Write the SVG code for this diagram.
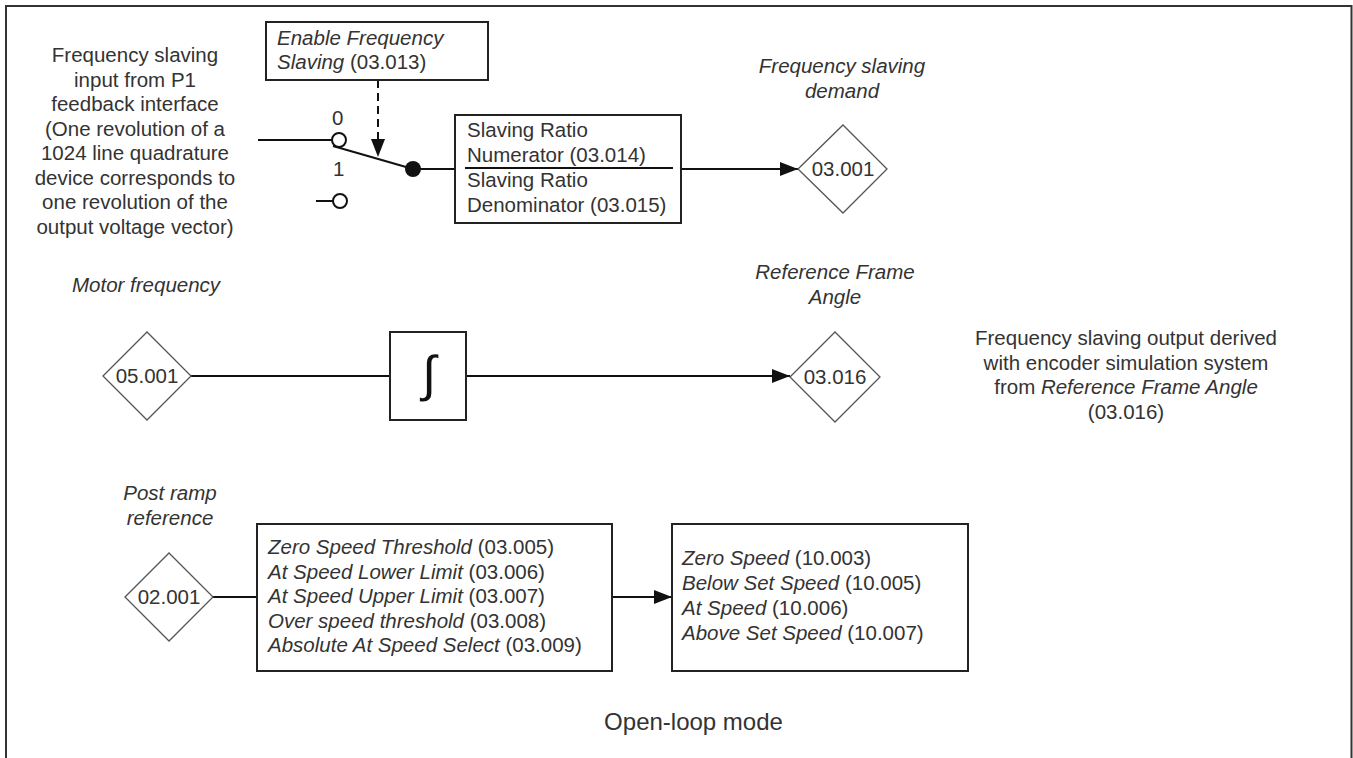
<svg xmlns="http://www.w3.org/2000/svg" width="1353" height="758" viewBox="0 0 1353 758">
<style>
text{font-family:"Liberation Sans",Arial,sans-serif;font-size:20.5px;fill:#333}
.i{font-style:italic}
.c{text-anchor:middle}
.box{fill:#fff;stroke:#222;stroke-width:2}
.dia{fill:#fff;stroke:#555;stroke-width:1.3}
.ln{fill:none;stroke:#111;stroke-width:2}
</style>
<defs>
<marker id="ah" markerUnits="userSpaceOnUse" markerWidth="18" markerHeight="16" refX="18" refY="8" orient="auto">
<path d="M0,1 L18,8 L0,15 z" fill="#111"/>
</marker>
</defs>
<rect x="0" y="0" width="1353" height="758" fill="#fff"/>
<path d="M6,770 V6 H1351.5 V770" fill="none" stroke="#333" stroke-width="2"/>

<g id="connectors">
<path class="ln" d="M258,140 H332"/>
<path class="ln" d="M316,201 H333"/>
<path class="ln" d="M333,146 L413,169"/>
<path class="ln" d="M378,80 V157" stroke-dasharray="8,5" marker-end="url(#ah)"/>
<path class="ln" d="M413,169 H455"/>
<path class="ln" d="M681,169 H798" marker-end="url(#ah)"/>
<path class="ln" d="M191,376 H390"/>
<path class="ln" d="M466,376 H790" marker-end="url(#ah)"/>
<path class="ln" d="M213,597 H257"/>
<path class="ln" d="M612,597 H672" marker-end="url(#ah)"/>
</g>

<g id="input-label">
<text class="c" x="135" y="62">Frequency slaving</text>
<text class="c" x="135" y="86.5">input from P1</text>
<text class="c" x="135" y="111">feedback interface</text>
<text class="c" x="135" y="135.5">(One revolution of a</text>
<text class="c" x="135" y="160">1024 line quadrature</text>
<text class="c" x="135" y="184.5">device corresponds to</text>
<text class="c" x="135" y="209">one revolution of the</text>
<text class="c" x="135" y="233.5">output voltage vector)</text>
</g>

<g id="enable-box">
<rect class="box" x="266" y="22" width="222" height="58"/>
<text x="277" y="45"><tspan class="i">Enable Frequency</tspan></text>
<text x="277" y="69"><tspan class="i">Slaving</tspan> (03.013)</text>
</g>

<g id="switch">
<text x="332" y="125">0</text>
<text x="333" y="176">1</text>
<circle cx="339" cy="140" r="7" fill="#fff" stroke="#111" stroke-width="2"/>
<circle cx="340" cy="201" r="7" fill="#fff" stroke="#111" stroke-width="2"/>
<circle cx="413" cy="169" r="8" fill="#111"/>
</g>

<g id="ratio-box">
<rect class="box" x="455" y="115" width="226" height="108"/>
<line x1="465" y1="168" x2="673" y2="168" stroke="#111" stroke-width="2"/>
<text x="467" y="137">Slaving Ratio</text>
<text x="467" y="162">Numerator (03.014)</text>
<text x="467" y="187">Slaving Ratio</text>
<text x="467" y="212">Denominator (03.015)</text>
</g>

<g id="p03001">
<text class="i c" x="842" y="73">Frequency slaving</text>
<text class="i c" x="842" y="97.5">demand</text>
<path class="dia" d="M798,169 L843,125 L887,169 L843,213 z"/>
<text class="c" x="843" y="176">03.001</text>
</g>

<g id="p05001">
<text class="i" x="72" y="292">Motor frequency</text>
<path class="dia" d="M103,376 L147,332 L191,376 L147,420 z"/>
<text class="c" x="147" y="383">05.001</text>
</g>

<g id="integrator">
<rect class="box" x="390" y="332" width="76" height="88"/>
<text class="c" x="429" y="391" style="font-size:50px;fill:#111">∫</text>
</g>

<g id="p03016">
<text class="i c" x="835" y="279">Reference Frame</text>
<text class="i c" x="835" y="303.5">Angle</text>
<path class="dia" d="M790,377 L835,332 L880,377 L835,422 z"/>
<text class="c" x="835" y="384">03.016</text>
</g>

<g id="output-note">
<text class="c" x="1126" y="345">Frequency slaving output derived</text>
<text class="c" x="1126" y="369.5">with encoder simulation system</text>
<text class="c" x="1126" y="394">from <tspan class="i">Reference Frame Angle</tspan></text>
<text class="c" x="1126" y="418.5">(03.016)</text>
</g>

<g id="p02001">
<text class="i c" x="170" y="500">Post ramp</text>
<text class="i c" x="170" y="525">reference</text>
<path class="dia" d="M125,597 L169,553 L213,597 L169,641 z"/>
<text class="c" x="169" y="604">02.001</text>
</g>

<g id="threshold-box">
<rect class="box" x="257" y="524" width="355" height="147"/>
<text x="268" y="554"><tspan class="i">Zero Speed Threshold</tspan> (03.005)</text>
<text x="268" y="578.5"><tspan class="i">At Speed Lower Limit</tspan> (03.006)</text>
<text x="268" y="603"><tspan class="i">At Speed Upper Limit</tspan> (03.007)</text>
<text x="268" y="627.5"><tspan class="i">Over speed threshold</tspan> (03.008)</text>
<text x="268" y="652"><tspan class="i">Absolute At Speed Select</tspan> (03.009)</text>
</g>

<g id="status-box">
<rect class="box" x="672" y="524" width="296" height="147"/>
<text x="682" y="565"><tspan class="i">Zero Speed</tspan> (10.003)</text>
<text x="682" y="590"><tspan class="i">Below Set Speed</tspan> (10.005)</text>
<text x="682" y="615"><tspan class="i">At Speed</tspan> (10.006)</text>
<text x="682" y="640"><tspan class="i">Above Set Speed</tspan> (10.007)</text>
</g>

<g id="title">
<text class="c" x="693.5" y="730" style="font-size:24px">Open-loop mode</text>
</g>
</svg>
